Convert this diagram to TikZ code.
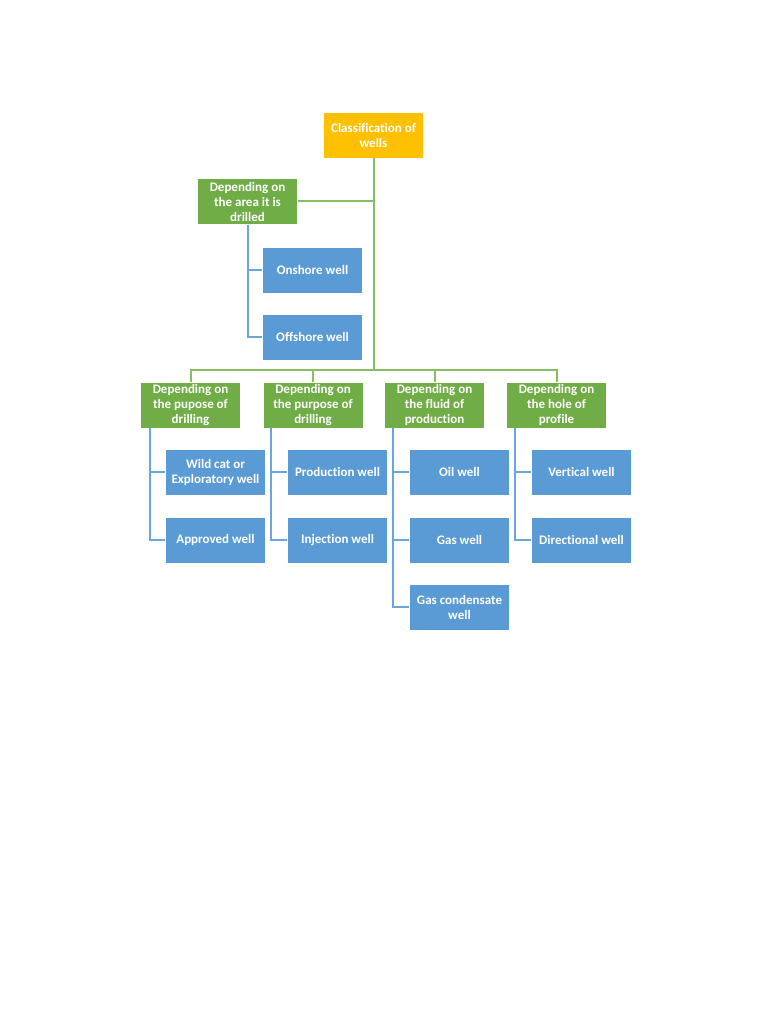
\documentclass[tikz,border=0pt]{standalone}
\usepackage{fontspec}
\setmainfont[Ligatures=NoCommon]{Carlito}
\definecolor{rootc}{HTML}{FFC000}
\definecolor{grc}{HTML}{70AD47}
\definecolor{blc}{HTML}{5B9BD5}
\definecolor{glc}{HTML}{86BE62}
\definecolor{blinec}{HTML}{6AA5DB}
\begin{document}
\begin{tikzpicture}[x=1pt,y=-1pt,
  box/.style={minimum width=100pt,minimum height=46pt,inner sep=0pt,align=center,text=white,
    font=\fontsize{13}{15}\selectfont\bfseries, draw=white, line width=0.6pt},
  rootbox/.style={box,fill=rootc},
  grbox/.style={box,fill=grc},
  blbox/.style={box,fill=blc},
  gline/.style={draw=glc,line width=2pt},
  bline/.style={draw=blinec,line width=2pt}]
\useasboundingbox (0,0) rectangle (768,1024);
\fill[white] (0,0) rectangle (768,1024);
% nodes
\node[rootbox] (root) at (373.5,135) {Classification of\\wells};
\node[grbox] (area) at (247.5,201.5) {Depending on\\the area it is\\drilled};
\node[blbox] (on) at (312.5,270) {Onshore well};
\node[blbox] (off) at (312.5,337) {Offshore well};
\node[grbox] (g1) at (190.5,405) {Depending on\\the pupose of\\drilling};
\node[grbox] (g2) at (313,405) {Depending on\\the purpose of\\drilling};
\node[grbox] (g3) at (434.5,405) {Depending on\\the fluid of\\production};
\node[grbox] (g4) at (556.5,405) {Depending on\\the hole of\\profile};
\node[blbox] (c11) at (215.5,472) {Wild cat or\\Exploratory well};
\node[blbox] (c12) at (215.5,540) {Approved well};
\node[blbox] (c21) at (337.5,472) {Production well};
\node[blbox] (c22) at (337.5,540) {Injection well};
\node[blbox] (c31) at (459.5,472) {Oil well};
\node[blbox] (c32) at (459.5,540) {Gas well};
\node[blbox] (c33) at (459.5,607) {Gas condensate\\well};
\node[blbox] (c41) at (581.5,472) {Vertical well};
\node[blbox] (c42) at (581.5,540) {Directional well};
\coordinate (bus) at (373.5,370);
% green connectors
\draw[gline] (root.south) -- (bus);
\draw[gline] (area.east) -- (area.east -| root.south);
\draw[gline] (bus) -| (g1.north);
\draw[gline] (bus) -| (g2.north);
\draw[gline] (bus) -| (g3.north);
\draw[gline] (bus) -| (g4.north);
% blue connectors
\draw[bline] (area.south) |- (on.west);
\draw[bline] (area.south) |- (off.west);
\draw[bline] ([xshift=10pt]g1.south west) |- (c11.west);
\draw[bline] ([xshift=10pt]g1.south west) |- (c12.west);
\draw[bline] ([xshift=8pt]g2.south west) |- (c21.west);
\draw[bline] ([xshift=8pt]g2.south west) |- (c22.west);
\draw[bline] ([xshift=9pt]g3.south west) |- (c31.west);
\draw[bline] ([xshift=9pt]g3.south west) |- (c32.west);
\draw[bline] ([xshift=9pt]g3.south west) |- (c33.west);
\draw[bline] ([xshift=9pt]g4.south west) |- (c41.west);
\draw[bline] ([xshift=9pt]g4.south west) |- (c42.west);
\end{tikzpicture}
\end{document}
